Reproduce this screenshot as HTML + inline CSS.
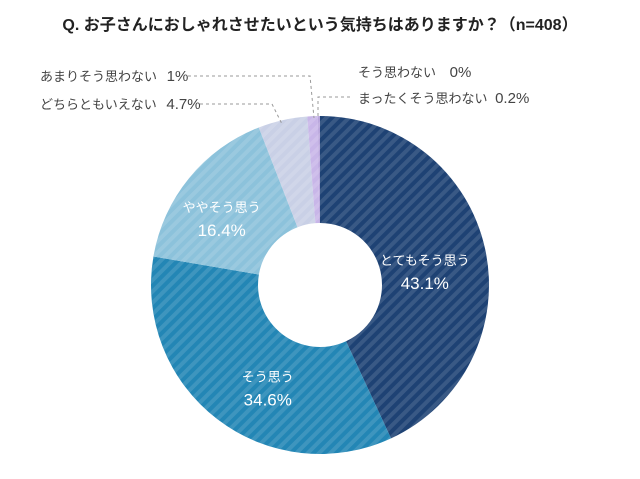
<!DOCTYPE html>
<html><head><meta charset="utf-8"><style>
body{margin:0;background:#fff;}
svg{display:block;font-family:"Liberation Sans","Noto Sans CJK JP",sans-serif;}
</style></head><body>
<svg id="chart" width="640" height="479">
<defs>
<pattern id="st" width="8" height="8" patternUnits="userSpaceOnUse" patternTransform="rotate(45)">
<rect width="4" height="8" fill="#fff" opacity="0.12"/>
</pattern>
</defs>
<text x="320" y="30" text-anchor="middle" font-size="16" font-weight="bold" fill="#222">Q. お子さんにおしゃれさせたいという気持ちはありますか？（n=408）</text>
<g id="slices"></g>
<g id="labels"></g>
<g stroke="#999" stroke-dasharray="3,3" fill="none" stroke-width="1">
<polyline points="188,76 310,76 314,118"/>
<polyline points="200,104 272,104 282,124"/>
<polyline points="350,97 318,97 318,117"/>
</g>
<g font-size="13" fill="#444">
<text x="40" y="81">あまりそう思わない <tspan font-size="15" dx="6">1%</tspan></text>
<text x="40" y="109">どちらともいえない <tspan font-size="15" dx="6">4.7%</tspan></text>
<text x="358" y="77">そう思わない <tspan font-size="15" dx="10">0%</tspan></text>
<text x="358" y="103">まったくそう思わない <tspan font-size="15" dx="4">0.2%</tspan></text>
</g>
</svg>
<script>
const categories=["とてもそう思う","そう思う","ややそう思う","どちらともいえない","あまりそう思わない","まったくそう思わない","そう思わない"];
const values=[43.1,34.6,16.4,4.7,1,0.2,0];
const colors=["#1e4274","#2386b5","#8cc2db","#c9d0e6","#c8b6e8","#b9a6dc","#aaa"];
const nudgeX=[-8,18,-5],nudgeY=[10,10,8];
const cx=320,cy=285,R=169,r=62;
const ns="http://www.w3.org/2000/svg";
const total=values.reduce((a,b)=>a+b,0);
function pt(a,rad){return [cx+rad*Math.sin(a),cy-rad*Math.cos(a)];}
let acc=0;
const g=document.getElementById('slices'),lg=document.getElementById('labels');
values.forEach((v,i)=>{
 if(v<=0)return;
 const a0=acc/total*2*Math.PI;acc+=v;const a1=acc/total*2*Math.PI;
 const lf=(a1-a0)>Math.PI?1:0;
 const [x0,y0]=pt(a0,R),[x1,y1]=pt(a1,R),[x2,y2]=pt(a1,r),[x3,y3]=pt(a0,r);
 const d=`M${x0},${y0}A${R},${R} 0 ${lf} 1 ${x1},${y1}L${x2},${y2}A${r},${r} 0 ${lf} 0 ${x3},${y3}Z`;
 const p=document.createElementNS(ns,'path');p.setAttribute('d',d);p.setAttribute('fill',colors[i]);
 
 
 g.appendChild(p);
 const p2=document.createElementNS(ns,'path');p2.setAttribute('d',d);p2.setAttribute('fill','url(#st)');
 
 
 g.appendChild(p2);
 if(i<3){
  const am=(a0+a1)/2;let [lx,ly]=pt(am,(R+r)/2+(i==2?5:0));
  lx+=nudgeX[i];ly+=nudgeY[i];
  const t=document.createElementNS(ns,'text');t.setAttribute('x',lx);t.setAttribute('y',ly-5);
  t.setAttribute('text-anchor','middle');t.setAttribute('fill','#fff');t.setAttribute('font-size','13');
  t.textContent=categories[i];
  
  
  lg.appendChild(t);
  const t2=document.createElementNS(ns,'text');t2.setAttribute('x',lx);t2.setAttribute('y',ly+19);
  t2.setAttribute('text-anchor','middle');t2.setAttribute('fill','#fff');t2.setAttribute('font-size','17');
  t2.textContent=v+'%';
  
  
  lg.appendChild(t2);
 }
});
</script>
</body></html>
